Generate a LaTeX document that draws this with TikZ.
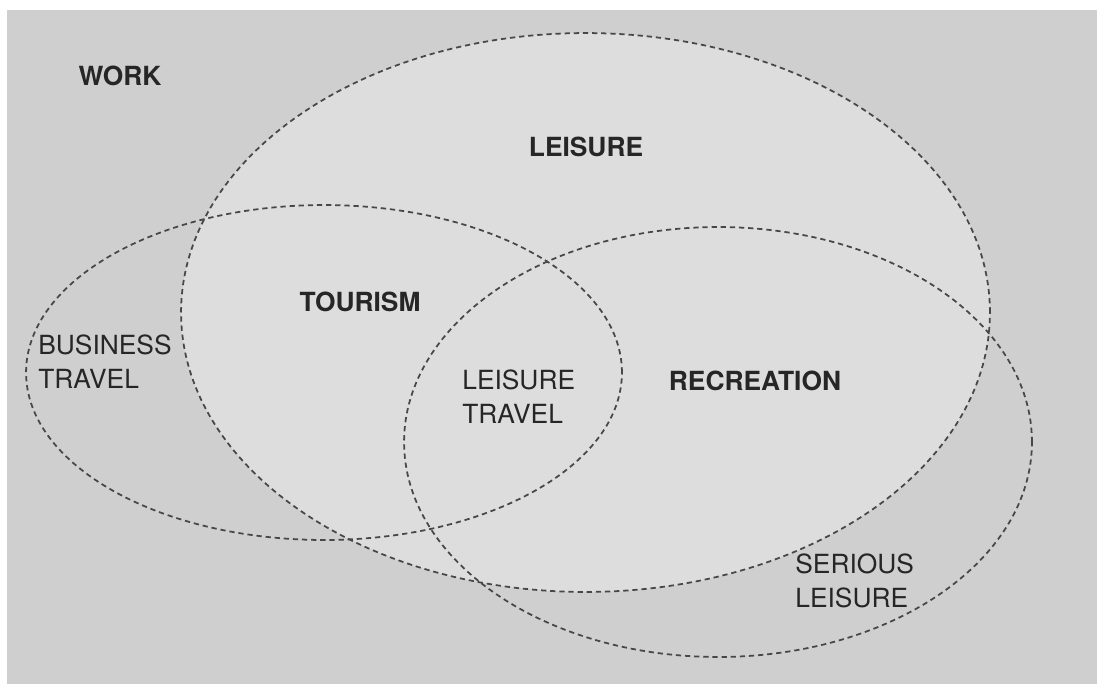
\documentclass[tikz,border=0pt]{standalone}
\usepackage{fontspec}
\setmainfont{TeX Gyre Heros}
\usetikzlibrary{shapes.geometric}
\definecolor{paper}{gray}{0.81}
\definecolor{paperlight}{gray}{0.865}
\definecolor{ink}{gray}{0.15}
\definecolor{dashink}{gray}{0.28}

\begin{document}
\begin{tikzpicture}[x=0.02cm,y=-0.02cm]
    %
    % `region' is used for the dashed ellipses.
    % `heading' is used for the bold names, `sublabel' for the two-line ones.
    \tikzstyle{region} = [draw=dashink,shape=ellipse,inner sep=0pt,line width=1pt,dash pattern=on 3pt off 2.2pt]
    \tikzstyle{heading} = [text=ink,font=\fontsize{15}{19}\selectfont\bfseries,inner sep=0pt]
    \tikzstyle{sublabel} = [text=ink,font=\fontsize{15}{19.5}\selectfont,align=left,inner sep=0pt,anchor=west]
    %
    % Page
    \useasboundingbox (0,0) rectangle (1097,684);
    \fill[white] (0,0) rectangle (1097,684);
    \fill[paper] (7,10) rectangle (1097,684);
    %
    % Regions
    \node[region,fill=paperlight,minimum width=16.18cm,minimum height=11.18cm] (leisure) at (585.5,312.5) {};
    \node[region,minimum width=11.92cm,minimum height=6.7cm] (tourism) at (324,372.5) {};
    \node[region,minimum width=12.56cm,minimum height=8.6cm] (recreation) at (718,442) {};
    %
    % Names
    \node[heading] (work) at (120,76) {WORK};
    \node[heading] (leisurename) at (586,147) {LEISURE};
    \node[heading] (tourismname) at (360,302) {TOURISM};
    \node[heading] (recreationname) at (755,381) {RECREATION};
    %
    % Overlaps
    \node[sublabel] (business) at (38,362) {BUSINESS\\TRAVEL};
    \node[sublabel] (leisuretravel) at (462,397) {LEISURE\\TRAVEL};
    \node[sublabel] (serious) at (795,581) {SERIOUS\\LEISURE};
    %
\end{tikzpicture}
\end{document}
